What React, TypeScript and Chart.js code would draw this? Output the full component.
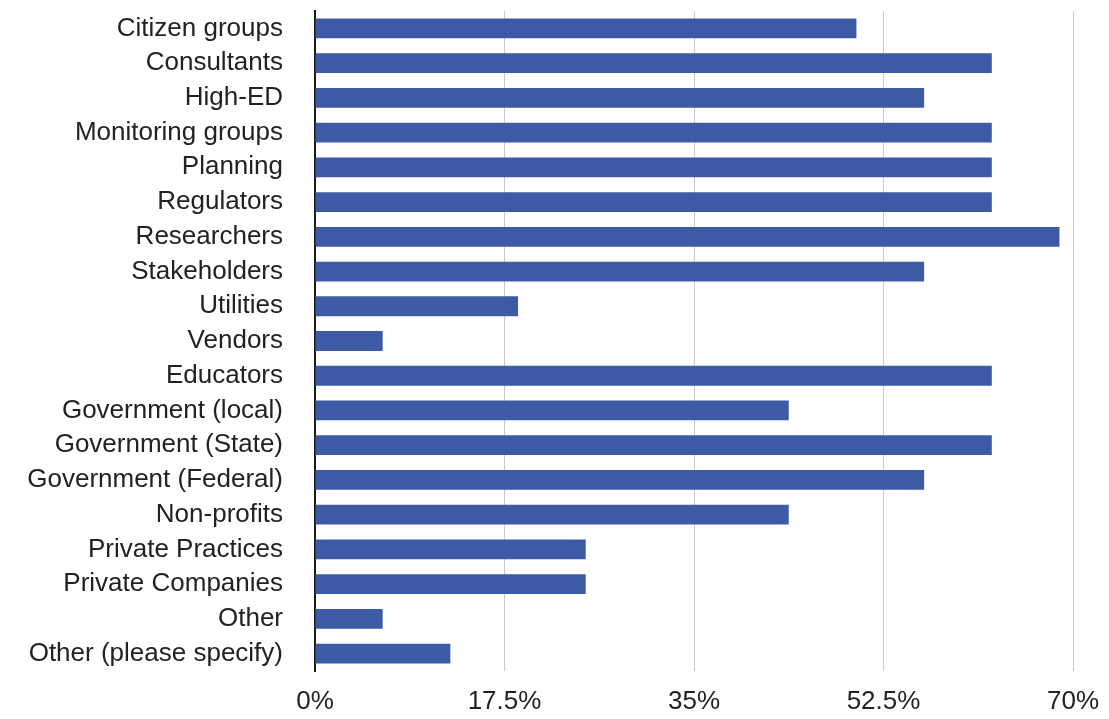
import React, { useEffect, useRef } from "react";
import { Chart, registerables } from "chart.js";

Chart.register(...registerables);

const categories = [
  "Citizen groups",
  "Consultants",
  "High-ED",
  "Monitoring groups",
  "Planning",
  "Regulators",
  "Researchers",
  "Stakeholders",
  "Utilities",
  "Vendors",
  "Educators",
  "Government (local)",
  "Government (State)",
  "Government (Federal)",
  "Non-profits",
  "Private Practices",
  "Private Companies",
  "Other",
  "Other (please specify)",
];

const shares = [
  50, 62.5, 56.25, 62.5, 62.5, 62.5, 68.75, 56.25, 18.75, 6.25, 62.5, 43.75,
  62.5, 56.25, 43.75, 25, 25, 6.25, 12.5,
];

const xTicks = [0, 17.5, 35, 52.5, 70];

const W = 1109;
const H = 719;

export default function App() {
  const canvasRef = useRef<HTMLCanvasElement | null>(null);

  useEffect(() => {
    const canvas = canvasRef.current;
    if (!canvas) return;
    const font = "'Liberation Sans', Arial, Helvetica, sans-serif";
    const chart = new Chart(canvas, {
      type: "bar",
      data: {
        labels: categories,
        datasets: [
          {
            data: shares,
            backgroundColor: "#3c5ba4",
            borderWidth: 0,
            categoryPercentage: 1,
            barPercentage: 0.57,
          },
        ],
      },
      options: {
        indexAxis: "y",
        responsive: false,
        maintainAspectRatio: false,
        animation: false,
        layout: { padding: { top: 11, right: 36, bottom: 0, left: 0 } },
        plugins: {
          legend: { display: false },
          tooltip: { enabled: false },
        },
        scales: {
          x: {
            min: 0,
            max: 70,
            afterBuildTicks: (scale: any) => {
              scale.ticks = xTicks.map((v) => ({ value: v }));
            },
            afterFit: (scale: any) => {
              scale.height = 48;
              scale.paddingLeft = 0;
              scale.paddingRight = 0;
            },
            grid: {
              color: "#c9c9c9",
              lineWidth: 1,
              drawTicks: false,
            },
            border: { display: false },
            ticks: {
              padding: 15,
              color: "#222222",
              font: { family: font, size: 26 },
              callback: (v: any) => `${v}%`,
            },
          },
          y: {
            afterFit: (scale: any) => {
              scale.width = 315;
              scale.paddingTop = 0;
              scale.paddingBottom = 0;
            },
            grid: { display: false, drawTicks: false },
            border: { display: true, color: "#1a1a1a", width: 2 },
            ticks: {
              padding: 32,
              color: "#222222",
              font: { family: font, size: 26 },
              autoSkip: false,
            },
          },
        },
      },
    });
    return () => chart.destroy();
  }, []);

  return (
    <div
      style={{
        position: "fixed",
        left: 0,
        top: 0,
        width: W,
        height: H,
        background: "#ffffff",
      }}
    >
      <canvas ref={canvasRef} width={W} height={H} />
    </div>
  );
}
